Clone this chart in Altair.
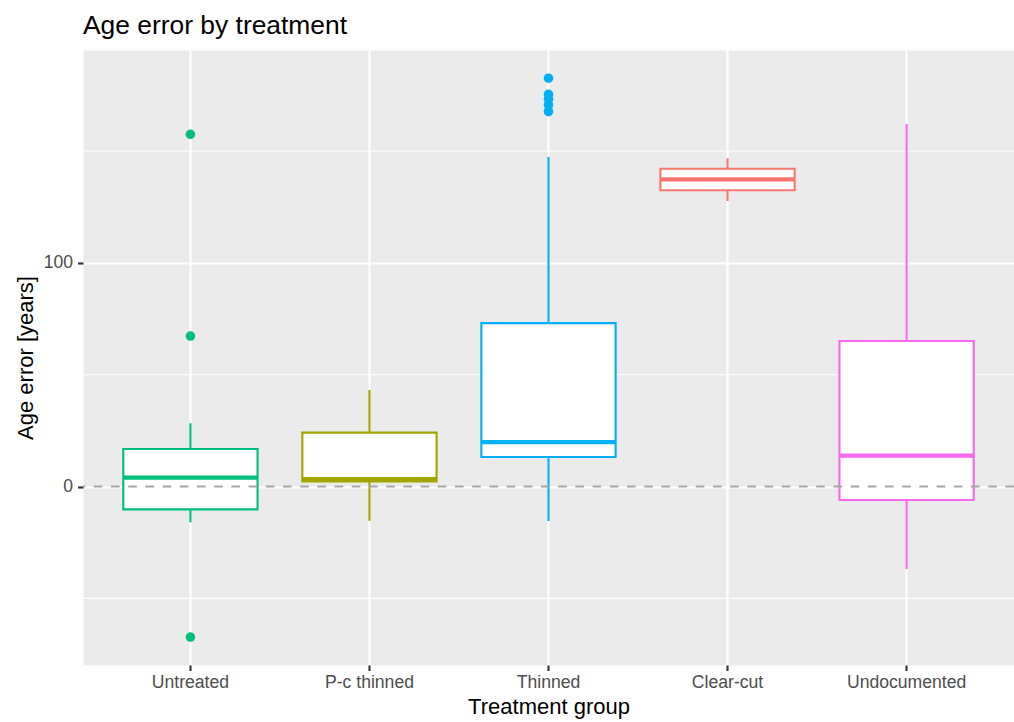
import altair as alt
import pandas as pd

# Treatment groups (in axis order) and their hue colours
groups = ["Untreated", "P-c thinned", "Thinned", "Clear-cut", "Undocumented"]
group_colors = ["#00BF7D", "#A3A500", "#00B0F6", "#F8766D", "#FA67F0"]

# Box-plot summary statistics per group (years)
whisker_low = [-16.0, -15.3, -15.4, 127.7, -36.9]
q1 = [-10.2, 2.3, 13.2, 132.5, -6.0]
median = [4.0, 3.3, 19.9, 137.4, 13.8]
q3 = [16.8, 24.1, 73.1, 142.1, 65.1]
whisker_high = [28.3, 43.2, 147.4, 146.8, 162.1]

# Outlying observations
outlier_group = ["Untreated", "Untreated", "Untreated",
                 "Thinned", "Thinned", "Thinned", "Thinned", "Thinned"]
outlier_value = [157.5, 67.3, -67.3, 182.6, 175.4, 173.2, 170.6, 167.6]

# Axis breaks and reference line
major_breaks = [0, 100]
minor_breaks = [-50, 50, 150]
reference_line = [0]
y_domain = [-79.8, 195.2]

FONT = "Liberation Sans"
LW = 2.13  # standard line width

stats = pd.DataFrame({
    "group": groups,
    "low": whisker_low,
    "q1": q1,
    "median": median,
    "q3": q3,
    "high": whisker_high,
})
outliers = pd.DataFrame({"group": outlier_group, "value": outlier_value})
minor_df = pd.DataFrame({"v": minor_breaks})
ref_df = pd.DataFrame({"v": reference_line})

x_scale = alt.Scale(domain=groups, paddingInner=0.25, paddingOuter=0.225)
y_scale = alt.Scale(domain=y_domain, nice=False, zero=False)
color_scale = alt.Scale(domain=groups, range=group_colors)


def x_enc():
    return alt.X(
        "group:N",
        scale=x_scale,
        sort=groups,
        axis=alt.Axis(
            title="Treatment group",
            grid=True,
            bandPosition=0.5,
            labelAngle=0,
            titleX=465.5,
            titleY=48.3,
            titleBaseline="alphabetic",
            titleAlign="center",
        ),
    )


y_axis = alt.Axis(
    title="Age error [years]",
    values=major_breaks,
    grid=True,
    titleX=-50.7,
    titleY=307.5,
    titleAngle=270,
    titleBaseline="alphabetic",
    titleAlign="center",
    labelPadding=5,
)

minor_grid = alt.Chart(minor_df).mark_rule(color="white", strokeWidth=1.07).encode(
    y=alt.Y("v:Q", scale=y_scale, axis=y_axis)
)

whiskers = alt.Chart(stats).mark_rule(strokeWidth=LW).encode(
    x=x_enc(),
    y=alt.Y("low:Q", scale=y_scale, axis=y_axis),
    y2="high:Q",
    color=alt.Color("group:N", scale=color_scale, legend=None),
)

boxes = alt.Chart(stats).mark_bar(fill="white", strokeWidth=LW).encode(
    x=x_enc(),
    y=alt.Y("q1:Q", scale=y_scale, axis=y_axis),
    y2="q3:Q",
    stroke=alt.Stroke("group:N", scale=color_scale, legend=None),
)

medians = alt.Chart(stats).mark_bar(fillOpacity=0, strokeWidth=2 * LW).encode(
    x=x_enc(),
    y=alt.Y("median:Q", scale=y_scale, axis=y_axis),
    y2="median:Q",
    stroke=alt.Stroke("group:N", scale=color_scale, legend=None),
)

points = alt.Chart(outliers).mark_circle(size=92, opacity=1).encode(
    x=x_enc(),
    y=alt.Y("value:Q", scale=y_scale, axis=y_axis),
    color=alt.Color("group:N", scale=color_scale, legend=None),
)

zero_line = alt.Chart(ref_df).mark_rule(
    color="#A6A6A6", strokeWidth=LW, strokeDash=[8.6, 8.6]
).encode(y=alt.Y("v:Q", scale=y_scale, axis=y_axis))

chart = (
    alt.layer(minor_grid, whiskers, boxes, medians, points, zero_line)
    .properties(
        width=931,
        height=615,
        autosize=alt.AutoSizeParams(type="none"),
        padding={"left": 83, "top": 50, "right": 0, "bottom": 57},
        title=alt.TitleParams(
            text="Age error by treatment",
            anchor="start",
            frame="group",
            font=FONT,
            fontSize=26.4,
            fontWeight="normal",
            color="black",
            baseline="alphabetic",
            offset=-10.5,
        ),
    )
    .configure_view(fill="#EBEBEB", stroke="transparent")
    .configure_axis(
        domain=False,
        gridColor="white",
        gridWidth=LW,
        tickColor="#333333",
        tickWidth=LW,
        tickSize=5.5,
        labelFont=FONT,
        labelFontSize=17.6,
        labelColor="#4D4D4D",
        titleFont=FONT,
        titleFontSize=22,
        titleFontWeight="normal",
        titleColor="black",
    )
    .configure_axisX(labelPadding=3)
)

chart.save("out.html", embed_options={"renderer": "svg", "actions": False})
